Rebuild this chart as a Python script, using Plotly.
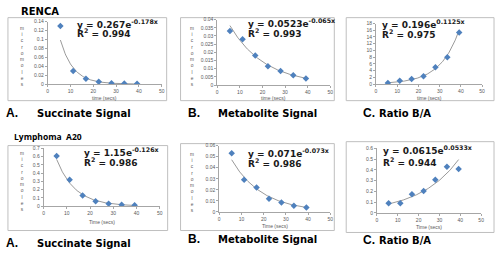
import math
import plotly.graph_objects as go

W, H = 500, 255

# ---- data ----
time_secs = [5.6, 11.2, 16.8, 22.4, 28.0, 33.6, 39.2]

renca_succinate = [0.13, 0.029, 0.012, 0.005, 0.002, 0.001, 0.0005]
renca_metabolite = [0.033, 0.028, 0.018, 0.0115, 0.0085, 0.006, 0.004]
renca_ratio = [0.3, 1.0, 1.5, 2.3, 5.0, 8.0, 15.3]

a20_succinate = [0.61, 0.32, 0.13, 0.06, 0.03, 0.015, 0.01]
a20_metabolite = [0.053, 0.029, 0.022, 0.012, 0.0085, 0.0055, 0.004]
a20_ratio = [0.09, 0.09, 0.175, 0.205, 0.31, 0.43, 0.41]

# exponential trendline coefficients (y = a*e^(b x)) as printed on the chart
fit_a = [0.267, 0.0523, 0.196, 1.15, 0.071, 0.0615]
fit_b = [-0.178, -0.065, 0.1125, -0.126, -0.073, 0.0533]
eq_text = ["y = 0.267e<sup>-0.178x</sup>", "y = 0.0523e<sup>-0.065x</sup>", "y = 0.196e<sup>0.1125x</sup>",
           "y = 1.15e<sup>-0.126x</sup>", "y = 0.071e<sup>-0.073x</sup>", "y = 0.0615e<sup>0.0533x</sup>"]
r2_text = ["R<sup>2</sup> = 0.994", "R<sup>2</sup> = 0.993", "R<sup>2</sup> = 0.975",
           "R<sup>2</sup> = 0.986", "R<sup>2</sup> = 0.986", "R<sup>2</sup> = 0.944"]

y_max = [0.14, 0.04, 18, 0.7, 0.06, 0.6]
y_dtick = [0.02, 0.005, 2, 0.1, 0.01, 0.1]
x_titles = ["time (secs)", "time (secs)", "time (secs)", "Time (secs)", "Time (secs)", "Time (secs)"]
panel_letters = ["A.", "B.", "C.", "A.", "B.", "C."]
panel_names = ["Succinate Signal", "Metabolite Signal", "Ratio B/A",
               "Succinate Signal", "Metabolite Signal", "Ratio B/A"]
group_names = ["RENCA", "Lymphoma  A20"]

series = [renca_succinate, renca_metabolite, renca_ratio, a20_succinate, a20_metabolite, a20_ratio]

# ---- layout geometry (pixels) ----
plot_px = [  # x0, x1, ytop, ybottom
    (47, 162, 19, 83),
    (218, 332, 17, 84),
    (378, 485, 21, 83),
    (43, 160, 149, 208),
    (220, 332, 146, 214),
    (379, 484, 149, 215),
]
box_px = [
    (7, 167, 15, 100),
    (181, 336, 15, 100),
    (348, 497, 15, 100),
    (7, 168, 146, 233),
    (181, 336, 144, 233),
    (348, 497, 142, 235),
]
eq_pos = [(76, 23, 31.5), (248, 22, 31), (383, 23, 32), (83, 154, 163), (248, 155, 164), (384, 152, 163)]
ytitle_x = [21, 193, None, 21, 193, None]
xtitle_y = [97, 97, 97, 224, 228, 229]
label_y = [113, 113, 113, 246, 242, 243]
letter_x = [4, 187, 364, 4, 187, 364]
name_x = [35, 218, 380, 35, 218, 380]


def px(x):
    return x / W


def py(y):
    return 1 - y / H


fig = go.Figure()
shapes = []
annotations = []
small = dict(size=5, color="#595959", family="Liberation Sans")

for i in range(6):
    n = "" if i == 0 else str(i + 1)
    xa, ya = "x" + n, "y" + n
    x0, x1, yt, yb = plot_px[i]
    # trendline from the printed equation
    xs = [time_secs[0] + k * (time_secs[-1] - time_secs[0]) / 100 for k in range(101)]
    ys = [fit_a[i] * math.exp(fit_b[i] * xv) for xv in xs]
    fig.add_trace(go.Scatter(x=xs, y=ys, mode="lines", line=dict(color="#808080", width=0.8),
                             xaxis=xa, yaxis=ya, showlegend=False, hoverinfo="skip"))
    fig.add_trace(go.Scatter(x=time_secs, y=series[i], mode="markers",
                             marker=dict(symbol="diamond", size=5, color="#4F81BD"),
                             xaxis=xa, yaxis=ya, showlegend=False))
    axis_common = dict(showgrid=False, zeroline=False, showline=True, linecolor="#a6a6a6", linewidth=0.8,
                       ticks="outside", ticklen=2, tickcolor="#a6a6a6", tickwidth=0.8,
                       tickfont=small)
    fig.layout["xaxis" + n] = dict(domain=[px(x0), px(x1)], range=[0, 50], dtick=10, tick0=0,
                                   anchor=ya, **axis_common)
    fig.layout["yaxis" + n] = dict(domain=[py(yb), py(yt)], range=[0, y_max[i]], dtick=y_dtick[i], tick0=0,
                                   anchor=xa, **axis_common)
    bx0, bx1, byt, byb = box_px[i]
    shapes.append(dict(type="rect", xref="paper", yref="paper", x0=px(bx0), x1=px(bx1),
                       y0=py(byb), y1=py(byt), line=dict(color="#bfbfbf", width=1), layer="below",
                       fillcolor="white"))
    ex, ey, ry = eq_pos[i]
    annotations.append(dict(xref="paper", yref="paper", x=px(ex), y=py(ey - 1.5), xanchor="left", yanchor="middle",
                            text="<b>" + eq_text[i] + "</b>", showarrow=False, borderpad=0,
                            font=dict(size=9, color="#1a1a1a", family="DejaVu Sans")))
    annotations.append(dict(xref="paper", yref="paper", x=px(ex), y=py(ry - 0.5), xanchor="left", yanchor="middle",
                            text="<b>" + r2_text[i] + "</b>", showarrow=False, borderpad=0,
                            font=dict(size=9, color="#1a1a1a", family="DejaVu Sans")))
    if ytitle_x[i] is not None:
        annotations.append(dict(xref="paper", yref="paper", x=px(ytitle_x[i]), y=py((yt + yb) / 2 + 4),
                                xanchor="center", yanchor="middle",
                                text="<br>".join(list("micromoles")), showarrow=False,
                                font=dict(size=4.8, color="#595959", family="Liberation Sans")))
    annotations.append(dict(xref="paper", yref="paper", x=px((x0 + x1) / 2), y=py(xtitle_y[i]),
                            xanchor="center", yanchor="middle", text=x_titles[i], showarrow=False,
                            font=small))
    annotations.append(dict(xref="paper", yref="paper", x=px(letter_x[i]), y=py(label_y[i]),
                            xanchor="left", yanchor="middle", text="<b>" + panel_letters[i] + "</b>",
                            showarrow=False, borderpad=0,
                            font=dict(size=12, color="black", family="Liberation Sans")))
    annotations.append(dict(xref="paper", yref="paper", x=px(name_x[i]), y=py(label_y[i]),
                            xanchor="left", yanchor="middle", text="<b>" + panel_names[i] + "</b>",
                            showarrow=False, borderpad=0,
                            font=dict(size=10, color="black", family="DejaVu Sans")))

annotations.append(dict(xref="paper", yref="paper", x=px(19), y=py(8.5), xanchor="left", yanchor="middle",
                        text="<b>" + group_names[0] + "</b>", showarrow=False, borderpad=0,
                        font=dict(size=10, color="black", family="DejaVu Sans")))
annotations.append(dict(xref="paper", yref="paper", x=px(12), y=py(137), xanchor="left", yanchor="middle",
                        text="<b>" + group_names[1] + "</b>", showarrow=False, borderpad=0,
                        font=dict(size=8.5, color="black", family="Open Sans")))

fig.update_layout(width=W, height=H, margin=dict(l=0, r=0, t=0, b=0),
                  paper_bgcolor="white", plot_bgcolor="rgba(0,0,0,0)",
                  shapes=shapes, annotations=annotations, showlegend=False)

fig.write_html("out.html", config={"displayModeBar": False},
               post_script="document.body.style.margin='0px';")
